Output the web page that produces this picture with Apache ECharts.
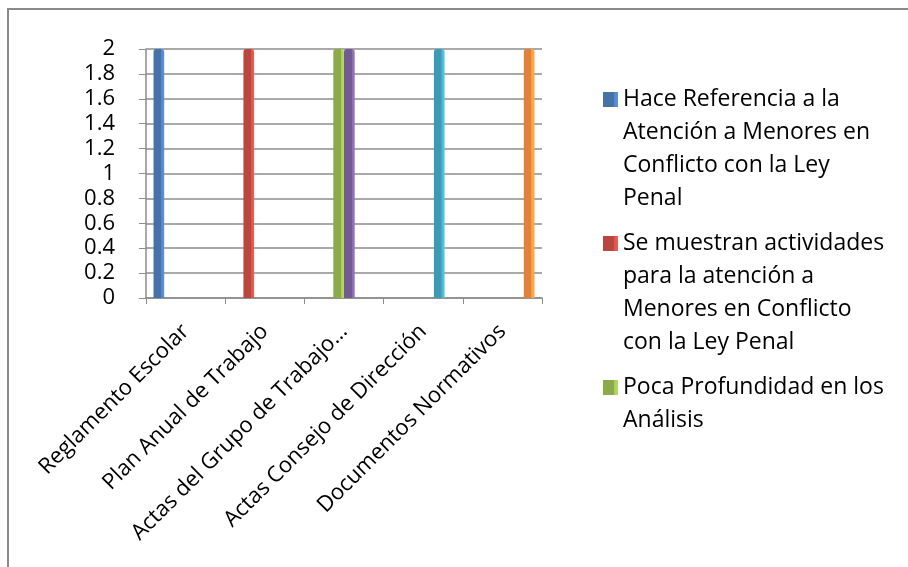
<!DOCTYPE html>
<html>
<head>
<meta charset="utf-8">
<title>Documentos</title>
<script src="https://cdn.jsdelivr.net/npm/echarts@6/dist/echarts.min.js"></script>
<style>
  html, body { margin: 0; padding: 0; background: #fff; }
  #chart { width: 908px; height: 567px; }
</style>
</head>
<body>
<div id="chart"></div>
<script>
var categories = ['Reglamento Escolar', 'Plan Anual de Trabajo', 'Actas del Grupo de Trabajo Metodológico', 'Actas Consejo de Dirección', 'Documentos Normativos'];
var seriesNames = [
	'Hace Referencia a la Atención a Menores en Conflicto con la Ley Penal',
	'Se muestran actividades para la atención a Menores en Conflicto con la Ley Penal',
	'Poca Profundidad en los Análisis',
	'Serie 4',
	'Serie 5',
	'Serie 6'
];
var seriesValues = [
	[2, 0, 0, 0, 0],
	[0, 2, 0, 0, 0],
	[0, 0, 2, 0, 0],
	[0, 0, 2, 0, 0],
	[0, 0, 0, 2, 0],
	[0, 0, 0, 0, 2]
];
var seriesColors = ['#4672A8', '#B9473F', '#8BAA4C', '#735A92', '#3F99B2', '#E0823A'];
// texto del legend tal como se parte en la imagen (el 3ro lleva lineas vacias para igualar alto)
var legendLines = [
	'Hace Referencia a la\nAtención a Menores en\nConflicto con la Ley\nPenal',
	'Se muestran actividades\npara la atención a\nMenores en Conflicto\ncon la Ley Penal',
	'Poca Profundidad en los\nAnálisis\n \n '
];
var yTicks = [0, 0.2, 0.4, 0.6, 0.8, 1, 1.2, 1.4, 1.6, 1.8, 2];

var chart = echarts.init(document.getElementById('chart'));
var font = 'Open Sans';

// icono del legend: cuadro arriba, caja alta para que quede en la primera linea
var legendIcon = 'path://M0,0h0.01M0,9h15v15h-15zM0,132h0.01';

function shade(c) {
	return {
		type: 'linear', x: 0, y: 0, x2: 1, y2: 0,
		colorStops: [
			{ offset: 0, color: c },
			{ offset: 0.7, color: c },
			{ offset: 0.72, color: echarts.color.lift(c, -0.2) },
			{ offset: 1, color: echarts.color.lift(c, -0.3) }
		]
	};
}

var series = seriesNames.map(function (name, i) {
	return {
		name: name,
		type: 'bar',
		barGap: '0%',
		barCategoryGap: '19%',
		animation: false,
		itemStyle: { color: shade(seriesColors[i]), borderRadius: [3, 3, 0, 0] },
		data: seriesValues[i].map(function (v) { return v === 0 ? null : v; })
	};
});

var legendData = legendLines.map(function (t, i) {
	return { name: seriesNames[i], icon: legendIcon };
});

var option = {
	backgroundColor: '#fff',
	graphic: [{
		type: 'polyline',
		shape: { points: [[8, 567], [8, 9], [908, 9]] },
		style: { stroke: '#8a8a8a', lineWidth: 2, fill: null },
		silent: true
	}],
	legend: {
		orient: 'vertical',
		left: 598,
		top: 78,
		itemWidth: 15,
		itemHeight: 132,
		itemGap: 12,
		data: legendData,
		selectedMode: false,
		formatter: function (name) {
			return legendLines[seriesNames.indexOf(name)];
		},
		textStyle: { fontFamily: font, fontSize: 23, lineHeight: 33, color: '#000' }
	},
	grid: { left: 146, right: 366, top: 49, bottom: 269 },
	xAxis: {
		type: 'category',
		data: categories,
		axisLine: { lineStyle: { color: '#8c8c8c', width: 1.5 } },
		axisTick: { show: true, length: 6, lineStyle: { color: '#8c8c8c' } },
		axisLabel: {
			rotate: 45,
			margin: 30,
			fontFamily: font,
			fontSize: 22,
			color: '#000',
			interval: 0,
			formatter: function (v) {
				return v.length > 26 ? v.slice(0, 26) + '…' : v;
			}
		}
	},
	yAxis: {
		type: 'value',
		min: yTicks[0],
		max: yTicks[yTicks.length - 1],
		interval: 0.2,
		axisLine: { show: true, lineStyle: { color: '#8c8c8c', width: 1.5 } },
		axisTick: { show: true, length: 7, lineStyle: { color: '#8c8c8c' } },
		splitLine: { lineStyle: { color: '#8c8c8c', width: 1.5 } },
		axisLabel: {
			margin: 31,
			fontFamily: font,
			fontSize: 22,
			color: '#000',
			formatter: function (v) { return String(Math.round(v * 10) / 10); }
		}
	},
	series: series
};

chart.setOption(option);
</script>
</body>
</html>
